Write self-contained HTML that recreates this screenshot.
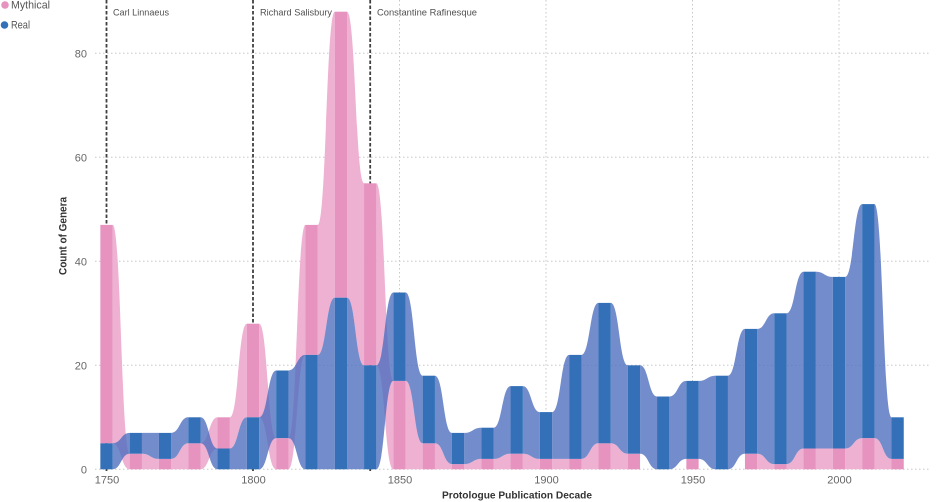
<!DOCTYPE html>
<html>
<head>
<meta charset="utf-8">
<style>
html,body{margin:0;padding:0;background:#fff;}
svg{display:block;}
text{font-family:"Liberation Sans",Arial,sans-serif;}
</style>
</head>
<body>
<svg width="936" height="502" viewBox="0 0 936 502" xmlns="http://www.w3.org/2000/svg">
<rect width="936" height="502" fill="#fff"/>

<!-- gridlines -->
<g stroke="#c8c8c8" stroke-width="1" stroke-dasharray="1.5 2.5">
<line x1="95" y1="469.3" x2="930" y2="469.3"/>
<line x1="95" y1="365.3" x2="930" y2="365.3"/>
<line x1="95" y1="261.3" x2="930" y2="261.3"/>
<line x1="95" y1="157.3" x2="930" y2="157.3"/>
<line x1="95" y1="53.3" x2="930" y2="53.3"/>
<line x1="399.5" y1="0" x2="399.5" y2="469"/>
<line x1="546" y1="0" x2="546" y2="469"/>
<line x1="692.5" y1="0" x2="692.5" y2="469"/>
<line x1="839" y1="0" x2="839" y2="469"/>
</g>

<!-- reference lines -->
<g stroke="#404040" stroke-width="1.8" stroke-dasharray="3.5 2">
<line x1="106.5" y1="0" x2="106.5" y2="471"/>
<line x1="253" y1="0" x2="253" y2="471"/>
<line x1="370.2" y1="0" x2="370.2" y2="471"/>
</g>

<!-- chart in data coordinates -->
<g transform="translate(106.5,469.3) scale(29.3,-5.2)">
<!-- pink ribbons -->
<path fill="#efb1d2" d="M.21,47C.5,47 .5,3 .79,3L.79,0C.5,0 .5,5 .21,5Z
M1.21,3C1.5,3 1.5,2 1.79,2L1.79,0L1.21,0Z
M2.21,2C2.5,2 2.5,5 2.79,5L2.79,0L2.21,0Z
M3.21,5C3.5,5 3.5,10 3.79,10L3.79,4C3.5,4 3.5,0 3.21,0Z
M4.21,10C4.5,10 4.5,28 4.79,28L4.79,10C4.5,10 4.5,4 4.21,4Z
M5.21,28C5.5,28 5.5,6 5.79,6L5.79,0C5.5,0 5.5,10 5.21,10Z
M6.21,6C6.5,6 6.5,47 6.79,47L6.79,22C6.5,22 6.5,0 6.21,0Z
M7.21,47C7.5,47 7.5,88 7.79,88L7.79,33C7.5,33 7.5,22 7.21,22Z
M8.21,88C8.5,88 8.5,55 8.79,55L8.79,20C8.5,20 8.5,33 8.21,33Z
M9.21,55C9.5,55 9.5,17 9.79,17L9.79,0C9.5,0 9.5,20 9.21,20Z
M10.21,17C10.5,17 10.5,5 10.79,5L10.79,0L10.21,0Z
M11.21,5C11.5,5 11.5,1 11.79,1L11.79,0L11.21,0Z
M12.21,1C12.5,1 12.5,2 12.79,2L12.79,0L12.21,0Z
M13.21,2C13.5,2 13.5,3 13.79,3L13.79,0L13.21,0Z
M14.21,3C14.5,3 14.5,2 14.79,2L14.79,0L14.21,0Z
M15.21,2L15.79,2L15.79,0L15.21,0Z
M16.21,2C16.5,2 16.5,5 16.79,5L16.79,0L16.21,0Z
M17.21,5C17.5,5 17.5,3 17.79,3L17.79,0L17.21,0Z
M22.21,3C22.5,3 22.5,1 22.79,1L22.79,0L22.21,0Z
M23.21,1C23.5,1 23.5,4 23.79,4L23.79,0L23.21,0Z
M24.21,4L24.79,4L24.79,0L24.21,0Z
M25.21,4C25.5,4 25.5,6 25.79,6L25.79,0L25.21,0Z
M26.21,6C26.5,6 26.5,2 26.79,2L26.79,0L26.21,0Z"/>
<!-- blue ribbons -->
<path fill="#4f6fbf" fill-opacity="0.8" d="M.21,5C.5,5 .5,7 .79,7L.79,3C.5,3 .5,0 .21,0Z
M1.21,7L1.79,7L1.79,2C1.5,2 1.5,3 1.21,3Z
M2.21,7C2.5,7 2.5,10 2.79,10L2.79,5C2.5,5 2.5,2 2.21,2Z
M3.21,10C3.5,10 3.5,4 3.79,4L3.79,0C3.5,0 3.5,5 3.21,5Z
M4.21,4C4.5,4 4.5,10 4.79,10L4.79,0L4.21,0Z
M5.21,10C5.5,10 5.5,19 5.79,19L5.79,6C5.5,6 5.5,0 5.21,0Z
M6.21,19C6.5,19 6.5,22 6.79,22L6.79,0C6.5,0 6.5,6 6.21,6Z
M7.21,22C7.5,22 7.5,33 7.79,33L7.79,0L7.21,0Z
M8.21,33C8.5,33 8.5,20 8.79,20L8.79,0L8.21,0Z
M9.21,20C9.5,20 9.5,34 9.79,34L9.79,17C9.5,17 9.5,0 9.21,0Z
M10.21,34C10.5,34 10.5,18 10.79,18L10.79,5C10.5,5 10.5,17 10.21,17Z
M11.21,18C11.5,18 11.5,7 11.79,7L11.79,1C11.5,1 11.5,5 11.21,5Z
M12.21,7C12.5,7 12.5,8 12.79,8L12.79,2C12.5,2 12.5,1 12.21,1Z
M13.21,8C13.5,8 13.5,16 13.79,16L13.79,3C13.5,3 13.5,2 13.21,2Z
M14.21,16C14.5,16 14.5,11 14.79,11L14.79,2C14.5,2 14.5,3 14.21,3Z
M15.21,11C15.5,11 15.5,22 15.79,22L15.79,2L15.21,2Z
M16.21,22C16.5,22 16.5,32 16.79,32L16.79,5C16.5,5 16.5,2 16.21,2Z
M17.21,32C17.5,32 17.5,20 17.79,20L17.79,3C17.5,3 17.5,5 17.21,5Z
M18.21,20C18.5,20 18.5,14 18.79,14L18.79,0C18.5,0 18.5,3 18.21,3Z
M19.21,14C19.5,14 19.5,17 19.79,17L19.79,2C19.5,2 19.5,0 19.21,0Z
M20.21,17C20.5,17 20.5,18 20.79,18L20.79,0C20.5,0 20.5,2 20.21,2Z
M21.21,18C21.5,18 21.5,27 21.79,27L21.79,3C21.5,3 21.5,0 21.21,0Z
M22.21,27C22.5,27 22.5,30 22.79,30L22.79,1C22.5,1 22.5,3 22.21,3Z
M23.21,30C23.5,30 23.5,38 23.79,38L23.79,4C23.5,4 23.5,1 23.21,1Z
M24.21,38C24.5,38 24.5,37 24.79,37L24.79,4L24.21,4Z
M25.21,37C25.5,37 25.5,51 25.79,51L25.79,6C25.5,6 25.5,4 25.21,4Z
M26.21,51C26.5,51 26.5,10 26.79,10L26.79,2C26.5,2 26.5,6 26.21,6Z"/>

<!-- pink bars -->
<g fill="#e693c0">
<rect x="-.21" y="5" width=".42" height="42"/>
<rect x=".79" y="0" width=".42" height="3"/>
<rect x="1.79" y="0" width=".42" height="2"/>
<rect x="2.79" y="0" width=".42" height="5"/>
<rect x="3.79" y="4" width=".42" height="6"/>
<rect x="4.79" y="10" width=".42" height="18"/>
<rect x="5.79" y="0" width=".42" height="6"/>
<rect x="6.79" y="22" width=".42" height="25"/>
<rect x="7.79" y="33" width=".42" height="55"/>
<rect x="8.79" y="20" width=".42" height="35"/>
<rect x="9.79" y="0" width=".42" height="17"/>
<rect x="10.79" y="0" width=".42" height="5"/>
<rect x="11.79" y="0" width=".42" height="1"/>
<rect x="12.79" y="0" width=".42" height="2"/>
<rect x="13.79" y="0" width=".42" height="3"/>
<rect x="14.79" y="0" width=".42" height="2"/>
<rect x="15.79" y="0" width=".42" height="2"/>
<rect x="16.79" y="0" width=".42" height="5"/>
<rect x="17.79" y="0" width=".42" height="3"/>
<rect x="19.79" y="0" width=".42" height="2"/>
<rect x="21.79" y="0" width=".42" height="3"/>
<rect x="22.79" y="0" width=".42" height="1"/>
<rect x="23.79" y="0" width=".42" height="4"/>
<rect x="24.79" y="0" width=".42" height="4"/>
<rect x="25.79" y="0" width=".42" height="6"/>
<rect x="26.79" y="0" width=".42" height="2"/>
</g>
<!-- blue bars -->
<g fill="#3470b8">
<rect x="-.21" y="0" width=".42" height="5"/>
<rect x=".79" y="3" width=".42" height="4"/>
<rect x="1.79" y="2" width=".42" height="5"/>
<rect x="2.79" y="5" width=".42" height="5"/>
<rect x="3.79" y="0" width=".42" height="4"/>
<rect x="4.79" y="0" width=".42" height="10"/>
<rect x="5.79" y="6" width=".42" height="13"/>
<rect x="6.79" y="0" width=".42" height="22"/>
<rect x="7.79" y="0" width=".42" height="33"/>
<rect x="8.79" y="0" width=".42" height="20"/>
<rect x="9.79" y="17" width=".42" height="17"/>
<rect x="10.79" y="5" width=".42" height="13"/>
<rect x="11.79" y="1" width=".42" height="6"/>
<rect x="12.79" y="2" width=".42" height="6"/>
<rect x="13.79" y="3" width=".42" height="13"/>
<rect x="14.79" y="2" width=".42" height="9"/>
<rect x="15.79" y="2" width=".42" height="20"/>
<rect x="16.79" y="5" width=".42" height="27"/>
<rect x="17.79" y="3" width=".42" height="17"/>
<rect x="18.79" y="0" width=".42" height="14"/>
<rect x="19.79" y="2" width=".42" height="15"/>
<rect x="20.79" y="0" width=".42" height="18"/>
<rect x="21.79" y="3" width=".42" height="24"/>
<rect x="22.79" y="1" width=".42" height="29"/>
<rect x="23.79" y="4" width=".42" height="34"/>
<rect x="24.79" y="4" width=".42" height="33"/>
<rect x="25.79" y="6" width=".42" height="45"/>
<rect x="26.79" y="2" width=".42" height="8"/>
</g>
</g>

<!-- annotation labels -->
<g font-size="9.5" fill="#505050">
<text x="113" y="15.5" textLength="56" lengthAdjust="spacingAndGlyphs">Carl Linnaeus</text>
<text x="260" y="15.5" textLength="72" lengthAdjust="spacingAndGlyphs">Richard Salisbury</text>
<text x="377" y="15.5" textLength="100" lengthAdjust="spacingAndGlyphs">Constantine Rafinesque</text>
</g>

<!-- y tick labels -->
<g font-size="11" fill="#666" text-anchor="end">
<text x="87" y="473.3">0</text>
<text x="87" y="369.3">20</text>
<text x="87" y="265.3">40</text>
<text x="87" y="161.3">60</text>
<text x="87" y="57.3">80</text>
</g>

<!-- x tick labels -->
<g font-size="11" fill="#666" text-anchor="middle">
<text x="107" y="483.5">1750</text>
<text x="253.5" y="483.5">1800</text>
<text x="400" y="483.5">1850</text>
<text x="546.5" y="483.5">1900</text>
<text x="693" y="483.5">1950</text>
<text x="839.5" y="483.5">2000</text>
</g>

<!-- axis titles -->
<text x="442" y="498.5" font-size="10" font-weight="bold" fill="#333" textLength="150" lengthAdjust="spacingAndGlyphs">Protologue Publication Decade</text>
<text transform="translate(66.5,236) rotate(-90)" text-anchor="middle" font-size="11" font-weight="bold" fill="#333" textLength="78" lengthAdjust="spacingAndGlyphs">Count of Genera</text>

<!-- legend -->
<circle cx="5" cy="5" r="3.8" fill="#e693c0"/>
<text x="11" y="8.7" font-size="11" fill="#555" textLength="39" lengthAdjust="spacingAndGlyphs">Mythical</text>
<circle cx="4.5" cy="25" r="3.8" fill="#3470b8"/>
<text x="11" y="28.5" font-size="11" fill="#555" textLength="19" lengthAdjust="spacingAndGlyphs">Real</text>
</svg>
</body>
</html>
